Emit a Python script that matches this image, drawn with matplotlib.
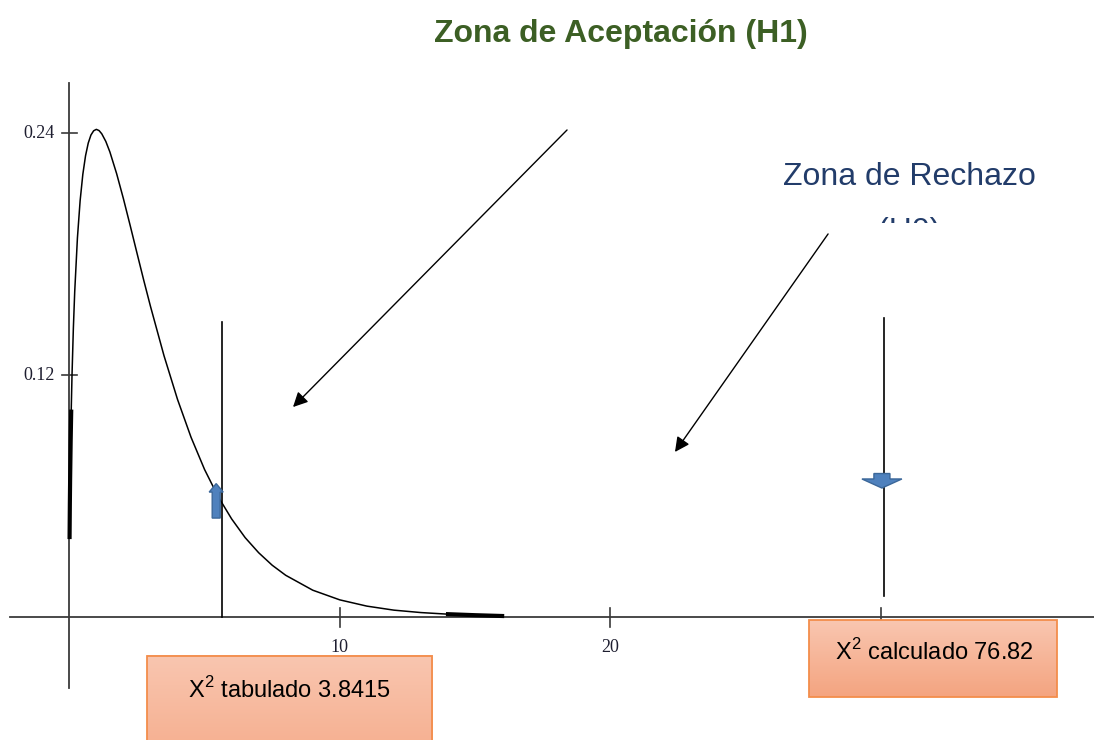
import numpy as np
import matplotlib
matplotlib.use("Agg")
import matplotlib.pyplot as plt
from matplotlib.colors import LinearSegmentedColormap
from matplotlib.patches import Rectangle, Polygon
from matplotlib.transforms import Bbox, TransformedBbox

plt.rcParams['mathtext.fontset'] = 'custom'
plt.rcParams['mathtext.rm'] = 'Liberation Sans'

# density curve
curve_x = [0.01, 0.02, 0.03, 0.05, 0.07, 0.1, 0.15, 0.2, 0.3, 0.4, 0.5, 0.6,
           0.7, 0.8, 0.9, 1.0, 1.1, 1.2, 1.35, 1.5, 1.75, 2.0, 2.25, 2.5,
           2.75, 3.0, 3.5, 4.0, 4.5, 5.0, 5.5, 6.0, 6.5, 7.0, 7.5, 8.0,
           9.0, 10.0, 11.0, 12.0, 13.0, 14.0, 15.0, 16.0]
curve_y = [0.0397, 0.0559, 0.0681, 0.0870, 0.1019, 0.1200, 0.1433, 0.1614,
           0.1881, 0.2066, 0.2197, 0.2289, 0.2352, 0.2392, 0.2413, 0.2420,
           0.2414, 0.2398, 0.2360, 0.2308, 0.2200, 0.2076, 0.1943, 0.1807,
           0.1672, 0.1542, 0.1297, 0.1080, 0.0892, 0.0732, 0.0598, 0.0487,
           0.0394, 0.0319, 0.0257, 0.0207, 0.0133, 0.0085, 0.0054, 0.0034,
           0.0022, 0.0014, 0.0009, 0.0005]

x_ticks = [10, 20, 30]
x_tick_labels = ["10", "20", ""]   # the 30 label sits under the box
y_ticks = [0.12, 0.24]
y_tick_labels = ["0.12", "0.24"]

x_tab_line = 5.645     # vertical line near the tabulated value
x_calc_line = 30.12    # vertical line near the computed value
label_tab = r"X$^{\rm 2}$ tabulado 3.8415"
label_calc = r"X$^{\rm 2}$ calculado 76.82"

fig = plt.figure(figsize=(10.94, 7.4), dpi=100)
ax = fig.add_axes([0, 0, 1, 1])
ax.axis('off')

axis_col = '#3a3a3a'
# axes drawn by hand (crossing at origin)
ax.plot([-2.18, 37.88], [0, 0], color=axis_col, lw=1.3, zorder=2)
ax.plot([0, 0], [-0.0352, 0.265], color=axis_col, lw=1.3, zorder=2)
for xt, lab in zip(x_ticks, x_tick_labels):
    ax.plot([xt, xt], [-0.005, 0.0045], color=axis_col, lw=1.2, zorder=2)
    if lab:
        ax.text(xt, -0.0149, lab, ha='center', va='center', fontsize=13,
                family='Liberation Serif', color='#1e1e30', zorder=1)
for yt, lab in zip(y_ticks, y_tick_labels):
    ax.plot([-0.27, 0.28], [yt, yt], color=axis_col, lw=1.2, zorder=2)
    ax.text(-0.53, yt, lab, ha='right', va='center', fontsize=13,
            family='Liberation Serif', color='#1e1e30')

# curve
ax.plot(curve_x, curve_y, color='black', lw=1.1, zorder=3)
ax.plot(curve_x[:5], curve_y[:5], color='black', lw=3, zorder=3)
ax.plot(curve_x[-3:], curve_y[-3:], color='black', lw=3, zorder=3)

# vertical markers
ax.plot([x_tab_line, x_tab_line], [0, 0.1464], color='black', lw=1.2, zorder=3)
ax.plot([x_calc_line, x_calc_line], [0.0104, 0.1484], color='black', lw=1.2, zorder=3)

# black pointer arrows
arrow_kw = dict(arrowstyle='-|>', color='black', lw=1.0, mutation_scale=22,
                shrinkA=0, shrinkB=0)
ax.annotate('', xy=(8.27, 0.1042), xytext=(18.40, 0.2417), arrowprops=arrow_kw)
ax.annotate('', xy=(22.39, 0.0819), xytext=(28.05, 0.1901), arrowprops=arrow_kw)

# blue block arrows
blue, blue_edge = '#4f81bd', '#3b6799'
cx = 5.43
up = Polygon([(cx - 0.148, 0.0491), (cx + 0.148, 0.0491), (cx + 0.148, 0.0620),
              (cx + 0.259, 0.0620), (cx, 0.0662), (cx - 0.259, 0.0620),
              (cx - 0.148, 0.0620)], closed=True, fc=blue, ec=blue_edge, lw=1, zorder=4)
ax.add_patch(up)
cx = 30.04
down = Polygon([(cx - 0.296, 0.0712), (cx + 0.296, 0.0712), (cx + 0.296, 0.0685),
                (cx + 0.739, 0.0685), (cx, 0.0640), (cx - 0.739, 0.0685),
                (cx - 0.296, 0.0685)], closed=True, fc=blue, ec=blue_edge, lw=1, zorder=4)
ax.add_patch(down)

# gradient label boxes
grad = LinearSegmentedColormap.from_list('peach', ['#f9c6b0', '#f4a480'])


def draw_box(x0, x1, y0, y1, text, tx, ty):
    g = np.linspace(0, 1, 100).reshape(-1, 1)
    ax.imshow(g, cmap=grad, extent=(x0, x1, y0, y1), origin='upper',
              aspect='auto', zorder=5)
    ax.add_patch(Rectangle((x0, y0), x1 - x0, y1 - y0, fill=False,
                           ec='#f38d4b', lw=1.3, zorder=6))
    ax.text(tx, ty, text, ha='center', va='center', fontsize=17,
            family='Liberation Sans', color='black', zorder=7)


draw_box(2.872, 13.41, -0.09, -0.01935, label_tab, 8.13, -0.0362)
draw_box(27.35, 36.51, -0.0397, -0.0015, label_calc, 31.96, -0.0174)

# titles
ax.text(20.39, 0.2854, "Zona de Aceptación (H1)", ha='center', va='baseline',
        fontsize=23, fontweight='bold', family='Liberation Sans', color='#3c5f24')
ax.text(31.04, 0.2144, "Zona de Rechazo", ha='center', va='baseline',
        fontsize=23, family='Liberation Sans', color='#223c6a')

ax.set_xlim(-2.562, 37.88)
ax.set_ylim(-0.06104, 0.3062)

# "(H0)" is cut off in the source, only its top shows
h0 = ax.text(31.04, 0.1871, "(H0)", ha='center', va='baseline',
             fontsize=23, family='Liberation Sans', color='#223c6a')
h0.set_clip_box(TransformedBbox(Bbox([[25, 0.1955], [37, 0.215]]), ax.transData))
h0.set_clip_on(True)

fig.savefig("out.png", dpi=100)
